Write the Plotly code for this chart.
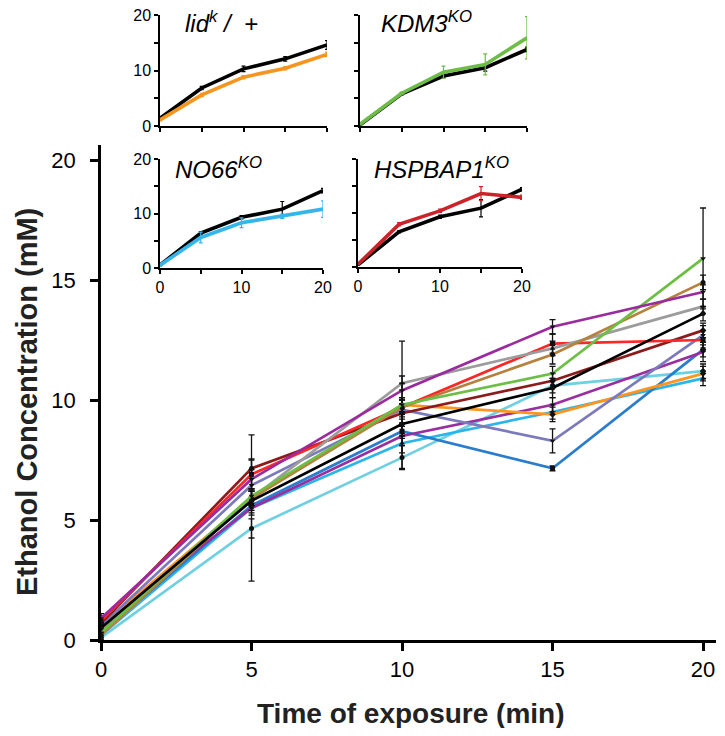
import plotly.graph_objects as go

# time points (min)
time = [0, 5, 10, 15, 20]

# main panel: ethanol concentration (mM) per genotype, with error bars
black = [0.5, 5.8, 9.0, 10.5, 13.6]
green = [0.3, 6.0, 9.8, 11.1, 15.9]
brown = [0.2, 5.9, 9.7, 11.9, 14.9]
purple_a = [0.9, 6.7, 10.4, 13.05, 14.5]
gray = [0.4, 5.9, 10.7, 12.15, 13.9]
darkred = [0.7, 7.15, 9.45, 10.8, 12.9]
red = [0.8, 6.9, 9.7, 12.35, 12.5]
lavender = [0.6, 6.45, 9.6, 8.3, 12.7]
steelblue = [0.3, 5.6, 8.7, 7.15, 12.1]
lightblue = [0.2, 5.5, 8.2, 9.5, 10.9]
cyan = [0.1, 4.65, 7.6, 10.6, 11.2]
orange = [0.6, 5.9, 9.8, 9.4, 11.1]
purple_b = [0.7, 5.5, 8.5, 9.8, 12.0]

black_err = [0.2, 0.4, 0.5, 0.4, 0.3]
green_err = [0.2, 0.3, 0.3, 0.3, 2.1]
brown_err = [0.2, 0.3, 0.3, 0.4, 0.3]
purple_a_err = [0.2, 0.4, 0.3, 0.3, 0.3]
gray_err = [0.2, 0.3, 0.3, 0.3, 0.3]
darkred_err = [0.2, 0.4, 0.4, 0.3, 0.3]
red_err = [0.2, 0.6, 0.4, 0.4, 0.4]
lavender_err = [0.2, 0.5, 0.4, 0.5, 0.4]
steelblue_err = [0.2, 0.3, 0.3, 0.1, 0.3]
lightblue_err = [0.2, 0.3, 0.4, 0.3, 0.3]
cyan_err = [0.2, 0.4, 0.5, 0.3, 0.3]
orange_err = [0.2, 0.3, 2.65, 0.3, 0.3]
purple_b_err = [0.2, 3.05, 0.4, 0.3, 0.4]

# insets: control (black) vs mutant
lid_ctrl = [1.4, 6.85, 10.3, 12.1, 14.6]
lid_ctrl_err = [0.2, 0.3, 0.5, 0.4, 0.8]
lid_mut = [1.1, 5.6, 8.8, 10.4, 12.9]
lid_mut_err = [0.2, 0.3, 0.3, 0.3, 0.4]

kdm3_ctrl = [0.2, 5.8, 9.0, 10.5, 13.8]
kdm3_ctrl_err = [0.1, 0.2, 0.3, 0.6, 0.4]
kdm3_mut = [0.3, 5.9, 9.7, 11.1, 15.9]
kdm3_mut_err = [0.1, 0.2, 1.1, 1.9, 3.8]

no66_ctrl = [0.55, 6.4, 9.3, 10.8, 14.2]
no66_ctrl_err = [0.1, 0.3, 0.3, 1.4, 0.4]
no66_mut = [0.5, 5.6, 8.3, 9.5, 10.8]
no66_mut_err = [0.1, 1.0, 0.9, 0.4, 1.5]

hsp_ctrl = [0.4, 6.5, 9.3, 10.9, 14.4]
hsp_ctrl_err = [0.1, 0.2, 0.3, 1.6, 0.3]
hsp_mut = [0.5, 7.9, 10.4, 13.6, 12.9]
hsp_mut_err = [0.1, 0.3, 0.3, 1.3, 0.4]

# page body has an 8px margin, so the figure is shrunk and positions shifted by it
OFF = 8
W, H = 725 - 2 * OFF, 736 - 2 * OFF
tick_font = "Liberation Sans, Arial, sans-serif"


def px_x(a, b):
    return [(a - OFF) / W, (b - OFF) / W]


def px_y(top, bottom):
    return [1 - (bottom - OFF) / H, 1 - (top - OFF) / H]


def pt(xp, yp):
    return (xp - OFF) / W, 1 - (yp - OFF) / H


fig = go.Figure()

main_series = [
    (cyan, cyan_err, "#6fd0e2", "circle"),
    (lightblue, lightblue_err, "#2bb5ea", "triangle-up"),
    (steelblue, steelblue_err, "#2a7dcc", "square"),
    (purple_b, purple_b_err, "#9b2e9f", "triangle-down"),
    (orange, orange_err, "#ff951e", "diamond"),
    (lavender, lavender_err, "#7b7abd", "triangle-down"),
    (darkred, darkred_err, "#8c1c1c", "circle"),
    (red, red_err, "#ff2626", "square"),
    (gray, gray_err, "#9c9c9c", "triangle-up"),
    (brown, brown_err, "#b5813c", "circle"),
    (green, green_err, "#6cbf45", "triangle-down"),
    (purple_a, purple_a_err, "#9a2a9e", "triangle-down"),
    (black, black_err, "#000000", "circle"),
]

for vals, err, col, sym in main_series:
    fig.add_trace(go.Scatter(
        x=time, y=vals, mode="lines+markers",
        line=dict(color=col, width=2.7),
        marker=dict(color="#111111", size=5, symbol=sym),
        error_y=dict(type="data", array=err, visible=True, color="#111111", thickness=1.3, width=3),
        cliponaxis=False, showlegend=False,
        xaxis="x", yaxis="y",
    ))

insets = [
    ("2", lid_ctrl, lid_ctrl_err, lid_mut, lid_mut_err, "#f7941d"),
    ("3", kdm3_ctrl, kdm3_ctrl_err, kdm3_mut, kdm3_mut_err, "#6cbd45"),
    ("4", no66_ctrl, no66_ctrl_err, no66_mut, no66_mut_err, "#35b6ea"),
    ("5", hsp_ctrl, hsp_ctrl_err, hsp_mut, hsp_mut_err, "#cc2229"),
]

for k, c, ce, m, me, col in insets:
    for vals, err, lc in [(c, ce, "#000000"), (m, me, col)]:
        fig.add_trace(go.Scatter(
            x=time, y=vals, mode="lines",
            line=dict(color=lc, width=3.6),
            error_y=dict(type="data", array=err, visible=True, color=lc, thickness=1.2, width=2),
            cliponaxis=False, showlegend=False,
            xaxis="x" + k, yaxis="y" + k,
        ))

main_axis = dict(
    showline=True, linecolor="black", linewidth=2.5,
    ticks="outside", ticklen=8, tickwidth=2.5, tickcolor="black",
    showgrid=False, zeroline=False, ticklabeloverflow="allow",
    tickfont=dict(family=tick_font, size=22, color="black"),
)


def inset_axis(domain, labels):
    return dict(
        domain=domain, range=[0, 20], showline=True, linecolor="black", linewidth=1.5,
        ticks="outside", ticklen=4, tickwidth=1.5, tickcolor="black",
        showgrid=False, zeroline=False, fixedrange=True, ticklabeloverflow="allow",
        tickvals=[0, 10, 20], showticklabels=labels,
        minor=dict(tickvals=[5, 15], ticks="outside", ticklen=4, tickwidth=1.5, tickcolor="black", showgrid=False),
        tickfont=dict(family=tick_font, size=16, color="black"),
    )


fig.update_layout(
    width=W, height=H,
    margin=dict(l=0, r=0, t=0, b=0, autoexpand=False),
    paper_bgcolor="white", plot_bgcolor="rgba(0,0,0,0)",
    xaxis=dict(main_axis, domain=px_x(101, 716), range=[0, 20.43],
               tickvals=[0, 5, 10, 15, 20], ticklabelstandoff=0),
    yaxis=dict(main_axis, domain=px_y(145, 640), range=[0, 20.625],
               tickvals=[0, 5, 10, 15, 20], ticklabelstandoff=10),
    xaxis2=dict(inset_axis(px_x(160, 327), False), anchor="y2"),
    yaxis2=dict(inset_axis(px_y(15, 126), True), anchor="x2"),
    xaxis3=dict(inset_axis(px_x(360, 527), False), anchor="y3"),
    yaxis3=dict(inset_axis(px_y(15, 126), False), anchor="x3"),
    xaxis4=dict(inset_axis(px_x(160, 323), True), anchor="y4"),
    yaxis4=dict(inset_axis(px_y(159, 268), True), anchor="x4"),
    xaxis5=dict(inset_axis(px_x(358, 522), True), anchor="y5"),
    yaxis5=dict(inset_axis(px_y(159, 267), False), anchor="x5"),
)

title_font = dict(family="Liberation Sans, Arial, sans-serif", size=24, color="black")
inset_titles = [
    ("<i>lid<sup>k</sup>&nbsp;/&nbsp;&nbsp;+</i>", 183, 22),
    ("<i>KDM3<sup>KO</sup></i>", 379, 22),
    ("<i>NO66<sup>KO</sup></i>", 173, 168),
    ("<i>HSPBAP1<sup>KO</sup></i>", 372, 168),
]
for txt, xp, yp in inset_titles:
    ax, ay = pt(xp, yp)
    fig.add_annotation(text=txt, x=ax, y=ay, xref="paper", yref="paper",
                       xanchor="left", yanchor="middle", showarrow=False, font=title_font)

axis_title_font = dict(family="Liberation Sans, Arial, sans-serif", size=28, color="#222222")
ax, ay = pt(411, 713)
fig.add_annotation(text="<b>Time of exposure (min)</b>", x=ax, y=ay,
                   xref="paper", yref="paper", xanchor="center", yanchor="middle",
                   showarrow=False, font=axis_title_font)
ax, ay = pt(27, 402)
fig.add_annotation(text="<b>Ethanol Concentration (mM)</b>", x=ax, y=ay,
                   xref="paper", yref="paper", xanchor="center", yanchor="middle",
                   showarrow=False, textangle=-90, font=dict(axis_title_font, size=29))

fig.write_html("out.html")
